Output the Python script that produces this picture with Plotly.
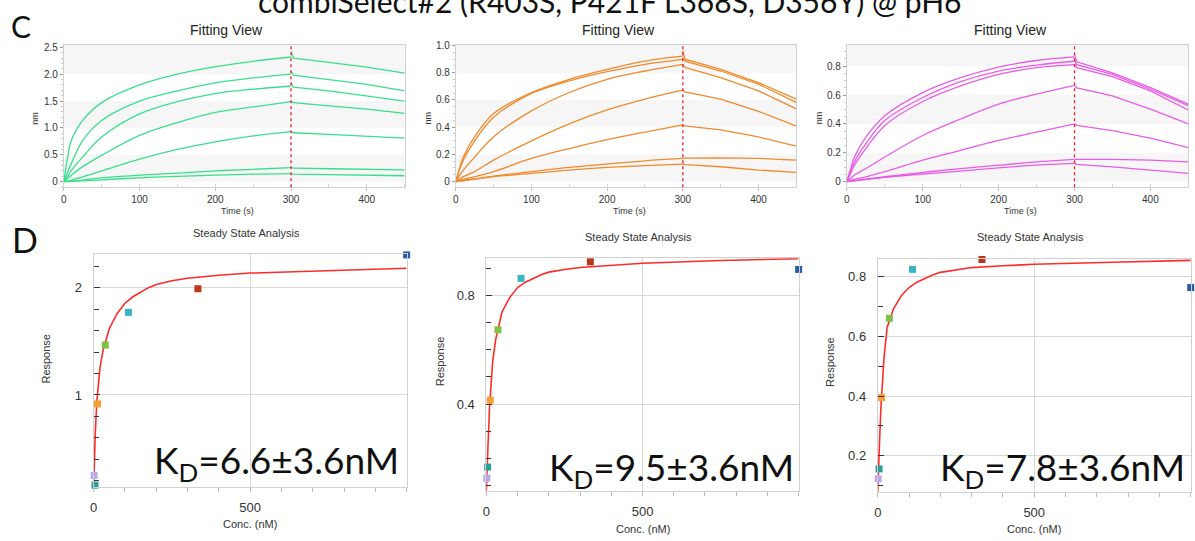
import plotly.graph_objects as go

W, H = 1195, 541

# ---------------- data ----------------
TIME_ASSOC = [0, 5, 10, 25, 50, 100, 150, 200, 250, 300]
TIME_DISSOC = [300, 303, 350, 400, 450]

GREEN_ASSOC = [
    [0, 0.45, 0.77, 1.14, 1.47, 1.80, 2.00, 2.14, 2.24, 2.32],
    [0, 0.18, 0.34, 0.77, 1.14, 1.50, 1.69, 1.84, 1.93, 2.00],
    [0, 0.10, 0.21, 0.46, 0.83, 1.26, 1.49, 1.64, 1.72, 1.78],
    [0, 0.06, 0.12, 0.28, 0.49, 0.86, 1.10, 1.29, 1.39, 1.49],
    [0, 0.01, 0.03, 0.09, 0.20, 0.42, 0.60, 0.74, 0.85, 0.93],
    [0, 0.005, 0.01, 0.03, 0.07, 0.12, 0.16, 0.20, 0.23, 0.26],
    [0, 0.003, 0.005, 0.015, 0.035, 0.07, 0.10, 0.12, 0.14, 0.15],
]
GREEN_DISSOC = [
    [2.43, 2.30, 2.22, 2.13, 2.02],
    [2.06, 1.98, 1.90, 1.81, 1.69],
    [1.84, 1.76, 1.69, 1.60, 1.50],
    [1.50, 1.47, 1.41, 1.35, 1.27],
    [0.93, 0.91, 0.88, 0.85, 0.81],
    [0.27, 0.25, 0.24, 0.23, 0.22],
    [0.15, 0.14, 0.13, 0.12, 0.11],
]

ORANGE_ASSOC = [
    [0, 0.10, 0.18, 0.33, 0.50, 0.655, 0.752, 0.825, 0.886, 0.922],
    [0, 0.09, 0.158, 0.30, 0.473, 0.648, 0.74, 0.808, 0.862, 0.898],
    [0, 0.045, 0.085, 0.18, 0.33, 0.52, 0.655, 0.752, 0.813, 0.862],
    [0, 0.018, 0.036, 0.073, 0.158, 0.30, 0.425, 0.527, 0.607, 0.672],
    [0, 0.008, 0.016, 0.036, 0.073, 0.17, 0.243, 0.308, 0.364, 0.417],
    [0, 0.004, 0.008, 0.02, 0.04, 0.073, 0.104, 0.129, 0.153, 0.17],
    [0, 0.004, 0.008, 0.018, 0.036, 0.06, 0.085, 0.104, 0.117, 0.129],
]
ORANGE_DISSOC = [
    [0.963, 0.90, 0.825, 0.728, 0.607],
    [0.91, 0.885, 0.813, 0.716, 0.583],
    [0.862, 0.84, 0.765, 0.667, 0.534],
    [0.672, 0.66, 0.607, 0.517, 0.408],
    [0.417, 0.41, 0.381, 0.328, 0.26],
    [0.17, 0.172, 0.175, 0.17, 0.158],
    [0.129, 0.125, 0.109, 0.085, 0.068],
]

MAGENTA_ASSOC = [
    [0, 0.09, 0.171, 0.309, 0.457, 0.617, 0.72, 0.793, 0.839, 0.864],
    [0, 0.07, 0.137, 0.263, 0.423, 0.583, 0.693, 0.766, 0.807, 0.834],
    [0, 0.06, 0.114, 0.229, 0.389, 0.555, 0.663, 0.743, 0.789, 0.811],
    [0, 0.023, 0.046, 0.091, 0.171, 0.32, 0.434, 0.537, 0.606, 0.667],
    [0, 0.008, 0.016, 0.034, 0.069, 0.149, 0.217, 0.286, 0.343, 0.40],
    [0, 0.004, 0.008, 0.017, 0.034, 0.064, 0.091, 0.114, 0.137, 0.155],
    [0, 0.003, 0.006, 0.015, 0.03, 0.053, 0.073, 0.096, 0.114, 0.126],
]
MAGENTA_DISSOC = [
    [0.88, 0.83, 0.754, 0.651, 0.537],
    [0.84, 0.81, 0.743, 0.64, 0.526],
    [0.815, 0.789, 0.727, 0.629, 0.496],
    [0.667, 0.65, 0.594, 0.503, 0.40],
    [0.40, 0.39, 0.354, 0.302, 0.235],
    [0.155, 0.155, 0.155, 0.149, 0.137],
    [0.126, 0.12, 0.103, 0.08, 0.057],
]

CONC = [1000, 333, 111, 37, 12.3, 4.1, 1.37]
POINT_COLORS = ["#2a5caa", "#b8361a", "#3ab5c6", "#7dc242", "#f5a030", "#2a9d98", "#b9a7f0"]
RESP_1 = [2.305, 1.99, 1.77, 1.465, 0.917, 0.16, 0.25]
RESP_2 = [0.897, 0.925, 0.864, 0.674, 0.414, 0.167, 0.126]
RESP_3 = [0.764, 0.858, 0.825, 0.661, 0.395, 0.156, 0.123]

FIT_CONC = [0, 2, 5, 10, 20, 30, 50, 75, 100, 125, 150, 175, 200, 250, 300, 400, 500, 750, 1000]
FIT_1 = [0.157, 0.38, 0.64, 0.94, 1.25, 1.42, 1.62, 1.76, 1.855, 1.915, 1.96, 2.0, 2.03, 2.065, 2.087, 2.115, 2.136, 2.16, 2.18]
FIT_2 = [0.08, 0.17, 0.24, 0.385, 0.556, 0.64, 0.74, 0.794, 0.83, 0.85, 0.865, 0.877, 0.887, 0.897, 0.904, 0.913, 0.92, 0.93, 0.937]
FIT_3 = [0.08, 0.16, 0.227, 0.36, 0.53, 0.63, 0.692, 0.737, 0.764, 0.782, 0.795, 0.806, 0.815, 0.824, 0.831, 0.837, 0.842, 0.849, 0.855]

KD_LABELS = ["K<sub>D</sub>=6.6±3.6nM", "K<sub>D</sub>=9.5±3.6nM", "K<sub>D</sub>=7.8±3.6nM"]
TITLE = "combiSelect#2 (R403S, P421F L368S, D356Y) @ pH6"

# ---------------- layout helpers ----------------
def fx(p):
    return p / W

def fy(p):
    return 1 - p / H

fig = go.Figure()

LBL = "Liberation Sans, Arial, sans-serif"
BIG = "Lato, Open Sans, sans-serif"


def label(text, x, y, size, family=LBL, color="#333", angle=0, **kw):
    d = dict(text=text, x=fx(x), y=fy(y), xref="paper", yref="paper", showarrow=False,
             xanchor="center", yanchor="middle", textangle=angle,
             font=dict(family=family, size=size, color=color))
    d.update(kw)
    return d


top_panels = [
    ("", (60, 402), [-0.105, 2.55], [0, 0.5, 1.0, 1.5, 2.0, 2.5], ["0", "0.5", "1.0", "1.5", "2.0", "2.5"],
     "#38e08c", GREEN_ASSOC, GREEN_DISSOC, 223, 31, [(0, 0.5), (1.0, 1.5), (2.0, 2.55)], 0.1),
    ("2", (453.3, 795), [-0.042, 1.007], [0, 0.2, 0.4, 0.6, 0.8, 1.0], ["0", "0.2", "0.4", "0.6", "0.8", "1.0"],
     "#f08a2c", ORANGE_ASSOC, ORANGE_DISSOC, 617, 425, [(0, 0.2), (0.4, 0.6), (0.8, 1.007)], 0.05),
    ("3", (845.7, 1188.3), [-0.039, 0.949], [0, 0.2, 0.4, 0.6, 0.8], ["0", "0.2", "0.4", "0.6", "0.8"],
     "#e85ce8", MAGENTA_ASSOC, MAGENTA_DISSOC, 1010, 818, [(0, 0.2), (0.4, 0.6), (0.8, 0.949)], 0.05),
]

annotations = []
shapes = []
layout_axes = {}

for suf, (xl, xr), yr, tv, tt, col, assoc, dissoc, tx, nmx, bands, ymin in top_panels:
    xa, ya = "x" + suf, "y" + suf
    for a, d in zip(assoc, dissoc):
        fig.add_trace(go.Scatter(x=TIME_ASSOC, y=a, mode="lines", xaxis=xa, yaxis=ya,
                                 line=dict(color=col, width=1.3, shape="spline", smoothing=1.0),
                                 showlegend=False, hoverinfo="skip"))
        fig.add_trace(go.Scatter(x=TIME_DISSOC, y=d, mode="lines", xaxis=xa, yaxis=ya,
                                 line=dict(color=col, width=1.3),
                                 showlegend=False, hoverinfo="skip"))
    layout_axes["xaxis" + suf] = dict(
        domain=[fx(xl), fx(xr)], range=[0, 450], anchor=ya,
        tickvals=[0, 100, 200, 300, 400], showgrid=False, zeroline=False,
        showline=True, mirror=True, linecolor="#d0d0d0", linewidth=1,
        ticks="outside", ticklen=3, tickcolor="#c0c0c0",
        minor=dict(dtick=50, ticks="inside", ticklen=3, tickcolor="#d8d8d8"),
        tickfont=dict(family=LBL, size=10, color="#333"))
    layout_axes["yaxis" + suf] = dict(
        domain=[fy(184), fy(40)], range=yr, anchor=xa,
        tickvals=tv, ticktext=tt, showgrid=False, zeroline=False,
        showline=True, mirror=True, linecolor="#d0d0d0", linewidth=1,
        ticks="outside", ticklen=3, tickcolor="#999",
        minor=dict(dtick=ymin, ticks="outside", ticklen=2, tickcolor="#cccccc"),
        tickfont=dict(family=LBL, size=10, color="#333"))
    for b0, b1 in bands:
        shapes.append(dict(type="rect", xref=xa + " domain", yref=ya, x0=0, x1=1, y0=b0, y1=b1,
                           fillcolor="#f6f6f6", line=dict(width=0), layer="below"))
    shapes.append(dict(type="line", xref=xa, yref=ya + " domain", x0=300, x1=300, y0=0, y1=1,
                       line=dict(color="#e8202a", width=1.3, dash="dot")))
    annotations.append(label("Fitting View", tx, 25, 14, color="#222"))
    annotations.append(label("nm", nmx, 114, 9, angle=-90))
    annotations.append(label("Time (s)", (xl + xr) / 2 + 3, 208, 9))

bottom_panels = [
    ("4", (90, 404), (251.7, 486.7), [0.141, 2.31], [1, 2], ["1", "2"], 0.2, RESP_1, FIT_1,
     243, 230, 42, 357, 524, KD_LABELS[0], 398, 490),
    ("5", (484, 797.3), (255.7, 491), [0.077, 0.938], [0.4, 0.8], ["0.4", "0.8"], 0.1, RESP_2, FIT_2,
     637, 234, 437, 360, 529, KD_LABELS[1], 795, 497),
    ("6", (876.7, 1190.7), (256, 491.7), [0.078, 0.861], [0.2, 0.4, 0.6, 0.8], ["0.2", "0.4", "0.6", "0.8"], 0.1,
     RESP_3, FIT_3, 1030, 234, 828, 360, 529, KD_LABELS[2], 1187, 497),
]

for suf, (xl, xr), (yt, yb), yr, tv, tt, ym, resp, fit, tx, ty, rx, ry, cy, kd, kdx, kdy in bottom_panels:
    xa, ya = "x" + suf, "y" + suf
    fig.add_trace(go.Scatter(x=FIT_CONC, y=fit, mode="lines", xaxis=xa, yaxis=ya,
                             line=dict(color="#ff2a2a", width=1.6, shape="linear"),
                             showlegend=False, hoverinfo="skip", cliponaxis=True))
    fig.add_trace(go.Scatter(x=CONC, y=resp, mode="markers", xaxis=xa, yaxis=ya,
                             marker=dict(color=POINT_COLORS, size=7, symbol="square", line=dict(width=0)),
                             showlegend=False, hoverinfo="skip", cliponaxis=False))
    layout_axes["xaxis" + suf] = dict(
        domain=[fx(xl), fx(xr)], range=[0, 1000], anchor=ya,
        tickvals=[0, 500], ticktext=["0", "500"], showgrid=True, gridcolor="#d9d9d9", zeroline=False,
        showline=True, mirror=True, linecolor="#d0d0d0", linewidth=1,
        ticks="outside", ticklen=4, tickcolor="#bbb", ticklabelstandoff=4,
        minor=dict(dtick=100, ticks="outside", ticklen=4, tickcolor="#bbb", showgrid=False),
        tickfont=dict(family=LBL, size=13, color="#333"))
    layout_axes["yaxis" + suf] = dict(
        domain=[fy(yb), fy(yt)], range=yr, anchor=xa,
        tickvals=tv, ticktext=tt, showgrid=True, gridcolor="#d9d9d9", zeroline=False,
        showline=True, mirror=True, linecolor="#d0d0d0", linewidth=1,
        ticks="inside", ticklen=6, tickcolor="#333", tickwidth=1.3, ticklabelstandoff=8,
        minor=dict(dtick=ym, tick0=0, ticks="inside", ticklen=5, tickcolor="#333", showgrid=False),
        tickfont=dict(family=LBL, size=13, color="#333"))
    annotations.append(label("Steady State Analysis", tx, ty, 11))
    annotations.append(label("Response", rx, ry, 11, angle=-90))
    annotations.append(label("Conc. (nM)", (xl + xr) / 2, cy, 11))
    annotations.append(label(kd, kdx, kdy, 37, family=BIG, color="#111",
                             xanchor="right", yanchor="bottom"))

annotations.append(label("C", 17, 21, 30, family=BIG, color="#111"))
annotations.append(label("D", 21, 237, 34, family=BIG, color="#111"))
annotations.append(label(TITLE, 608, 0, 30, family=BIG, color="#111", yshift=4))

fig.update_layout(width=W, height=H, margin=dict(l=0, r=0, t=0, b=0),
                  paper_bgcolor="white", plot_bgcolor="white",
                  annotations=annotations, shapes=shapes, **layout_axes)

fig.write_html("out.html")
